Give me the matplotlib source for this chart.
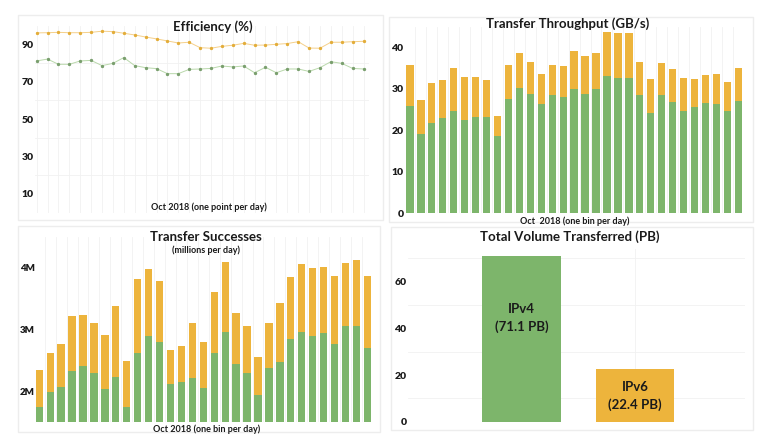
import matplotlib.pyplot as plt
import matplotlib.patches as mpatches
import numpy as np

plt.rcParams['font.family'] = ['Lato', 'DejaVu Sans']
plt.rcParams['font.weight'] = 'bold'

GREEN = '#7db56b'
ORANGE = '#edb43c'
GRID = '#f1f1f1'
TXT = '#1a1a1a'

# --- data (Oct 2018, one value per day) ---
days = np.arange(31)

eff_orange = [96.1, 96.2, 96.4, 96.2, 96.2, 96.4, 97.0, 96.8, 95.9, 95.0,
              93.9, 92.9, 91.8, 90.7, 91.1, 88.2, 87.9, 88.9, 89.5, 90.5,
              89.5, 89.6, 90.0, 90.4, 91.4, 88.0, 87.9, 91.1, 91.1, 91.4, 91.6]
eff_green = [81.1, 82.1, 79.3, 79.3, 81.1, 81.4, 78.6, 79.8, 82.9, 78.6,
             77.5, 77.0, 74.3, 74.3, 76.6, 76.8, 77.1, 78.4, 77.9, 78.4,
             74.8, 77.7, 74.8, 76.8, 76.8, 75.5, 77.5, 80.7, 79.8, 77.1, 76.8]

thr_total = [35.7, 27.3, 31.3, 32.1, 34.9, 32.8, 32.9, 32.0, 23.5, 35.7,
             38.7, 36.5, 33.6, 35.7, 35.5, 39.0, 37.9, 38.5, 43.6, 43.4,
             43.5, 36.5, 32.4, 36.2, 34.7, 32.7, 32.3, 33.2, 33.6, 31.6, 34.9]
thr_green = [25.9, 19.0, 21.8, 23.0, 24.7, 22.5, 23.3, 23.3, 18.6, 27.6,
             30.2, 28.7, 26.4, 28.4, 27.9, 30.0, 28.7, 30.0, 33.1, 32.5,
             32.6, 28.4, 24.2, 28.4, 26.7, 24.7, 25.6, 26.6, 26.3, 24.7, 27.0]

succ_total = [2.34, 2.62, 2.77, 3.22, 3.24, 3.10, 2.91, 3.37, 2.48, 3.81,
              3.98, 3.79, 2.67, 2.73, 3.11, 2.80, 3.60, 4.09, 3.26, 3.06,
              2.56, 3.11, 3.42, 3.85, 4.05, 4.00, 4.01, 3.87, 4.08, 4.13, 3.86]
succ_green = [1.75, 1.98, 2.06, 2.32, 2.41, 2.30, 2.04, 2.23, 1.74, 2.62,
              2.90, 2.79, 2.12, 2.14, 2.21, 2.05, 2.62, 2.95, 2.44, 2.30,
              1.93, 2.38, 2.47, 2.85, 2.95, 2.90, 2.94, 2.77, 3.05, 3.05, 2.69]

vol_labels = ['IPv4', 'IPv6']
vol_values = [71.1, 22.4]

W, H = 784, 440
fig = plt.figure(figsize=(W / 100, H / 100), dpi=100)
fig.patch.set_facecolor('white')


def px_axes(x0, y0, x1, y1):
    # axes from pixel box (top-left origin)
    return fig.add_axes([x0 / W, 1 - y1 / H, (x1 - x0) / W, (y1 - y0) / H])


def panel(x0, y0, x1, y1):
    fig.patches.append(mpatches.Rectangle((x0 / W, 1 - y1 / H), (x1 - x0) / W, (y1 - y0) / H,
                                          transform=fig.transFigure, fill=False,
                                          edgecolor='#ededed', linewidth=1.0, zorder=-5))


def style(ax, size=7.5):
    for s in ax.spines.values():
        s.set_visible(False)
    ax.tick_params(length=0, labelsize=size, colors=TXT, pad=1)
    for lab in ax.get_yticklabels():
        lab.set_fontweight('heavy')
    ax.set_xticks([])
    ax.set_facecolor('none')


def ftext(x, y, s, size=7, **kw):
    fig.text(x / W, 1 - y / H, s, ha='center', va='center', fontsize=size,
             fontweight='bold', color=TXT, **kw)


# --- panels (faint frames) ---
panel(18, 15, 383, 220)
panel(389, 17, 753, 222)
panel(18, 226, 380, 432)
panel(391, 227, 753, 430)

# 1) Efficiency
ax1 = px_axes(35, 25.6, 369, 212.6)
for x in days:
    ax1.axvline(x, color=GRID, lw=0.6, zorder=0)
for y in [20, 40, 60, 80]:
    ax1.axhline(y, color=GRID, lw=0.6, zorder=0)
ax1.plot(days, eff_orange, color='#f5d08a', lw=0.7, marker='o', ms=1.4,
         mfc='#e3ad3a', mec='#e3ad3a')
ax1.plot(days, eff_green, color='#b9d8ab', lw=0.7, marker='o', ms=1.4,
         mfc='#7a9f6e', mec='#7a9f6e')
ax1.set_xlim(-0.15, 30.5)
ax1.set_ylim(0, 100)
ax1.set_yticks([10, 30, 50, 70, 90])
style(ax1)
ftext(213, 27, 'Efficiency (%)', size=9.5)
ftext(209, 207, 'Oct 2018 (one point per day)', size=6.5)

# 2) Transfer Throughput
ax2 = px_axes(405, 26.5, 746, 213.3)
for x in days:
    ax2.axvline(x - 0.5, color=GRID, lw=0.6, zorder=0)
ax2.bar(days, thr_green, width=0.67, color=GREEN, zorder=2)
ax2.bar(days, np.array(thr_total) - np.array(thr_green), bottom=thr_green,
        width=0.67, color=ORANGE, zorder=2)
ax2.set_xlim(-0.45, 30.7)
ax2.set_ylim(0, 45)
ax2.set_yticks([0, 10, 20, 30, 40])
style(ax2)
ftext(568, 24, 'Transfer Throughput (GB/s)', size=9.5)
ftext(575, 221, 'Oct  2018 (one bin per day)', size=6.5)

# 3) Transfer Successes
ax3 = px_axes(36, 236.7, 375, 422)
for x in days:
    ax3.axvline(x - 0.5, color=GRID, lw=0.6, zorder=0)
ax3.bar(days, np.array(succ_green) - 1.5, bottom=1.5, width=0.67, color=GREEN, zorder=2)
ax3.bar(days, np.array(succ_total) - np.array(succ_green), bottom=succ_green,
        width=0.67, color=ORANGE, zorder=2)
ax3.set_xlim(-0.3, 30.7)
ax3.set_ylim(1.5, 4.5)
ax3.set_yticks([2, 3, 4])
ax3.set_yticklabels(['2M', '3M', '4M'])
style(ax3, size=7)
ftext(206, 237, 'Transfer Successes', size=9.5)
ftext(206, 250, '(millions per day)', size=6.5)
ftext(207, 429, 'Oct 2018 (one bin per day)', size=6.5)

# 4) Total Volume Transferred
ax4 = px_axes(408, 249, 745, 421.7)
for y in [10, 30, 50, 70]:
    ax4.axhline(y, color=GRID, lw=0.6, zorder=0)
ax4.axvline(1.0, color=GRID, lw=0.6, zorder=0)
ax4.bar([0, 1], vol_values, width=0.69, color=[GREEN, ORANGE], zorder=2)
for i, (lab, v) in enumerate(zip(vol_labels, vol_values)):
    ytxt = 44.5 if i == 0 else v * 0.5
    ax4.text(i, ytxt, f'{lab}\n({v} PB)', ha='center', va='center', fontsize=9.5,
             fontweight='bold', color=TXT, linespacing=1.5, zorder=3)
ax4.set_xlim(-1.0, 1.97)
ax4.set_ylim(0, 74)
ax4.set_yticks([0, 20, 40, 60])
style(ax4)
ftext(570, 237, 'Total Volume Transferred (PB)', size=9.5)

fig.savefig('out.png', dpi=100, facecolor='white')
